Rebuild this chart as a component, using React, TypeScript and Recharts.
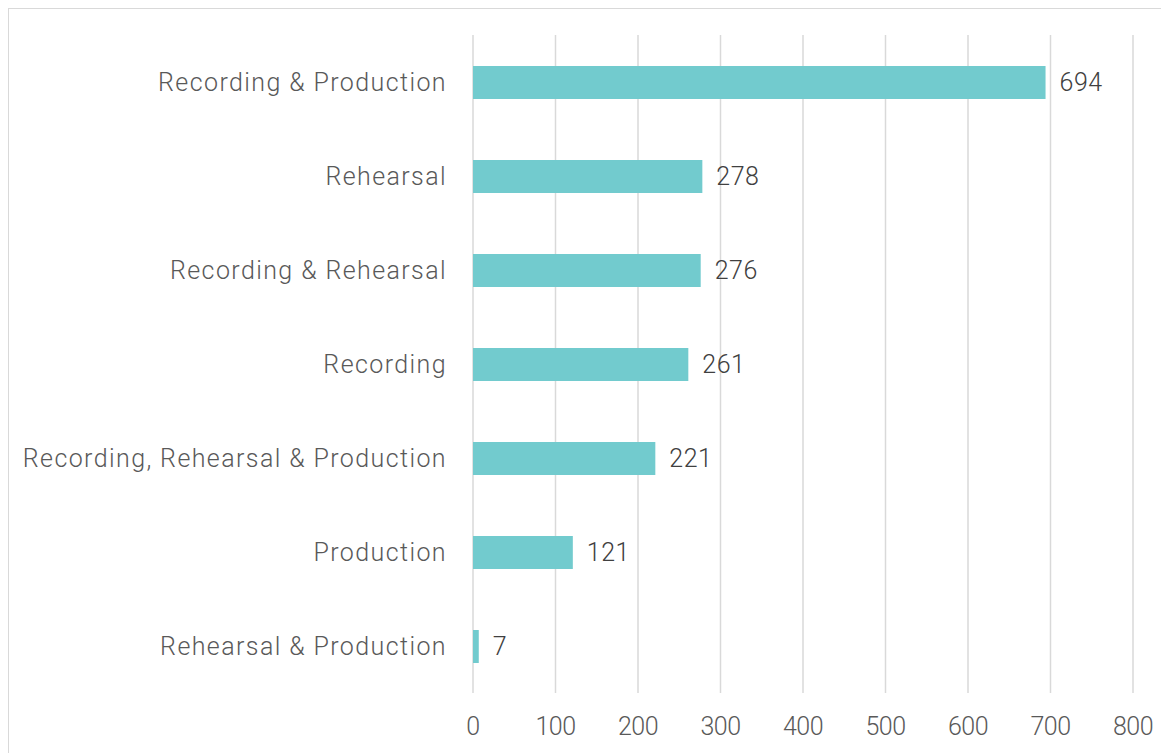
import React from 'react';
import { BarChart, Bar, XAxis, YAxis, CartesianGrid, LabelList } from 'recharts';

const categories = [
    'Recording & Production',
    'Rehearsal',
    'Recording & Rehearsal',
    'Recording',
    'Recording, Rehearsal & Production',
    'Production',
    'Rehearsal & Production',
];
const counts = [694, 278, 276, 261, 221, 121, 7];
const xTicks = [0, 100, 200, 300, 400, 500, 600, 700, 800];

const data = categories.map((name, i) => ({ name, value: counts[i] }));

const font = 'Roboto, "Noto Sans", sans-serif';

export default function App() {
    return (
        <div
            style={{
                position: 'relative',
                width: 1170,
                height: 760,
                border: '1px solid #d9d9d9',
                background: '#fff',
                fontFamily: font,
            }}
        >
            <BarChart
                width={1160}
                height={745}
                data={data}
                layout="vertical"
                margin={{ top: 26, right: 36, bottom: 11, left: 0 }}
            >
                <CartesianGrid horizontal={false} stroke="#d9d9d9" strokeWidth={1.5} />
                <XAxis
                    type="number"
                    domain={[0, 800]}
                    ticks={xTicks}
                    axisLine={false}
                    tickLine={false}
                    tickSize={0}
                    tickMargin={24}
                    height={50}
                    tick={{ fill: '#595959', fontSize: 25, fontFamily: font, fontWeight: 300, letterSpacing: -0.5 }}
                />
                <YAxis
                    type="category"
                    dataKey="name"
                    width={464}
                    axisLine={false}
                    tickLine={false}
                    tickSize={0}
                    tickMargin={26}
                    interval={0}
                    tick={{ fill: '#595959', fontSize: 25, fontFamily: font, fontWeight: 300, letterSpacing: 1.4 }}
                />
                <Bar dataKey="value" fill="#72cbce" barSize={33} isAnimationActive={false}>
                    <LabelList
                        dataKey="value"
                        position="right"
                        offset={14}
                        fill="#404040"
                        fontSize={25}
                        fontFamily={font}
                        fontWeight={300}
                        letterSpacing={0.5}
                    />
                </Bar>
            </BarChart>
        </div>
    );
}
